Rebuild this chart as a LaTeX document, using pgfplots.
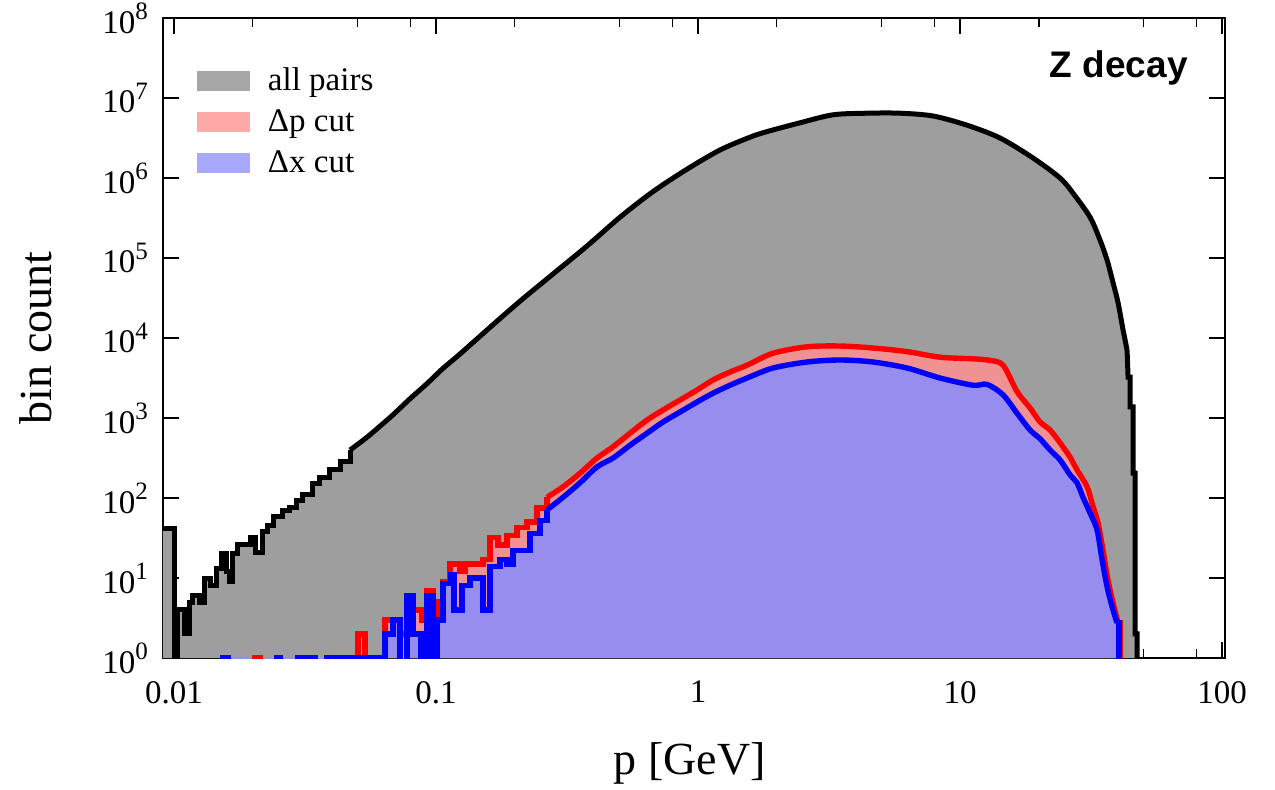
\documentclass[border=0pt]{standalone}
\usepackage{fontspec}
\setmainfont{Liberation Serif}
\newfontfamily\arialfont{Liberation Sans}
\usepackage{pgfplots}
\usepackage{pgfplotstable}
\pgfplotsset{compat=1.18}
\definecolor{grayfill}{RGB}{158,158,158}
\definecolor{pinkfill}{RGB}{240,146,146}
\definecolor{bluefill}{RGB}{150,141,238}
\definecolor{leggray}{RGB}{166,166,166}
\definecolor{legpink}{RGB}{255,168,168}
\definecolor{legblue}{RGB}{168,168,255}
\newcommand{\tp}[1]{10\raisebox{0.42em}{\fontsize{12.5}{12.5}\selectfont #1}}

\pgfplotstableread{
x y
0.00884 41
0.010088 41
0.010088 0.5
0.010358 0.5
0.010358 4
0.011016 4
0.011016 2
0.011510 2
0.011510 5
0.011817 5
0.011817 6
0.012568 6
0.012568 5
0.013133 5
0.013133 10
0.013842 10
0.013842 8
0.014591 8
0.014591 13
0.015248 13
0.015248 20
0.015933 20
0.015933 12
0.016359 12
0.016359 9
0.016796 9
0.016796 20
0.017551 20
0.017551 26
0.019507 26
0.019507 32
0.020383 32
0.020383 21
0.021678 21
0.021678 38
0.022652 38
0.022652 45
0.023878 45
0.023878 58
0.026062 58
0.026062 70
0.027713 70
0.027713 77
0.029476 77
0.029476 94
0.031074 94
0.031074 110
0.033921 110
0.033921 152
0.036073 152
0.036073 183
0.039394 183
0.039394 225
0.043020 225
0.043020 290
0.046980 290
0.046980 398
0.054528 575
0.062756 851
0.068520 1096
0.079573 1738
0.092391 2692
0.10634 4169
0.12347 6310
0.15654 12589
0.20919 28840
0.27958 63096
0.37701 141254
0.50382 323594
0.67323 676083
0.90783 1288250
1.2133 2238721
1.5790 3235937
1.8339 3801894
2.4506 4897788
3.2754 6165950
4.4171 6456542
5.9025 6456542
7.8878 5956621
10.634 4570882
14.211 3162278
18.995 1778279
24.080 1000000
26.996 645654
31.345 323594
34.212 167880
36.398 94406
38.370 48978
40.096 27542
41.898 12589
43.396 7079
43.777 3236
44.561 3236
44.561 1380
45.751 1380
45.751 204
46.564 204
46.564 2
47.386 2
47.386 0.5
}\allpairs

\pgfplotstableread{
x y
0.0190 0.5
0.020383 0.5
0.020383 1
0.021299 1
0.021299 0.5
0.041171 0.5
0.041171 1
0.043020 1
0.043020 0.5
0.050385 0.5
0.050385 2
0.053584 2
0.053584 0.5
0.059557 0.5
0.059557 1
0.063891 1
0.063891 3
0.072894 3
0.072894 2
0.077507 2
0.077507 6
0.081701 6
0.081701 4
0.088421 4
0.088421 3
0.092391 3
0.092391 7
0.097399 7
0.097399 1
0.10088 1
0.10088 5
0.10634 5
0.10634 9
0.11309 9
0.11309 15
0.12347 15
0.12347 12
0.12902 12
0.12902 15
0.15118 15
0.15118 17
0.16075 17
0.16075 32
0.17243 32
0.17243 26
0.18660 26
0.18660 34
0.20383 34
0.20383 43
0.22252 43
0.22252 50
0.24294 50
0.24294 75
0.26525 75
0.26525 102
0.30532 138
0.35448 204
0.41171 316
0.47386 437
0.55026 646
0.63894 944
0.73524 1259
0.85378 1679
0.99125 2239
1.1409 2985
1.3248 3758
1.5382 4571
1.9330 6457
2.6063 7762
3.4834 7943
4.6564 7499
6.2779 6761
8.3920 5754
11.209 5495
13.018 5248
14.592 4571
16.503 2138
18.502 1334
20.203 891
22.060 708
24.080 490
26.293 324
27.959 224
30.532 138
32.181 78
33.627 49
35.142 22
36.719 9.4
38.370 4.9
40.096 2.75
40.806 2.75
40.806 0.5
}\dpcut

\pgfplotstableread{
x y
0.0150 0.5
0.015382 0.5
0.015382 1
0.016075 1
0.016075 0.5
0.024730 0.5
0.024730 1
0.025390 1
0.025390 0.5
0.029737 0.5
0.029737 1
0.034529 1
0.034529 0.5
0.038370 0.5
0.038370 1
0.041171 1
0.041171 0.5
0.043020 0.5
0.043020 1
0.059557 1
0.059557 0.5
0.061146 0.5
0.061146 1
0.063891 1
0.063891 2
0.068520 2
0.068520 3
0.072894 3
0.072894 0.5
0.077507 0.5
0.077507 6
0.081701 6
0.081701 2
0.087649 2
0.087649 0.5
0.092391 0.5
0.092391 6
0.097399 6
0.097399 0.5
0.10088 0.5
0.10088 3
0.10634 3
0.10634 8.5
0.11409 8.5
0.11409 11
0.11714 11
0.11714 4
0.12566 4
0.12566 8
0.13482 8
0.13482 10
0.15118 10
0.15118 4
0.16075 4
0.16075 14
0.17549 14
0.17549 17
0.18660 17
0.18660 15
0.19672 15
0.19672 22
0.22848 22
0.22848 36
0.24943 36
0.24943 52
0.26525 52
0.26525 71
0.30532 102
0.35448 155
0.41171 245
0.47386 316
0.55026 457
0.63894 646
0.73524 891
0.85378 1189
0.99125 1585
1.1409 2042
1.3248 2570
1.5382 3162
1.9330 4217
2.6063 5012
3.4834 5309
4.6564 5012
6.2779 4217
8.3920 3162
11.209 2570
12.680 2630
14.592 1950
16.503 1148
18.502 708
20.203 550
22.060 398
24.080 299
26.293 195
27.959 155
29.476 102
31.345 65
33.333 40
34.834 17
36.398 7.8
38.032 4.4
39.740 2.75
40.449 2.75
40.449 0.5
}\dxcut

\begin{document}
\begin{tikzpicture}
\begin{axis}[
  scale only axis, width=531pt, height=320pt,
  xmode=log, ymode=log,
  xmin=0.00908, xmax=102.6, ymin=1, ymax=1e8,
  xtick={0.01,0.1,1,10,100},
  xticklabels={0.01,0.1,1,10,100},
  minor xtick={0.02,0.05,0.08,0.2,0.5,0.8,2,5,8,20,50,80},
  ytick={1,10,100,1000,10000,100000,1000000,10000000,100000000},
  yticklabels={\tp{0},\tp{1},\tp{2},\tp{3},\tp{4},\tp{5},\tp{6},\tp{7},\tp{8}},
  yminorticks=false,
  tick align=inside, xtick pos=both, ytick pos=both,
  major tick length=8pt, minor tick length=4.5pt,
  tick style={black, line width=0.6pt},
  axis line style={line width=0.6pt},
  ticklabel style={font=\fontsize{16.5}{16.5}\selectfont},
  xticklabel style={yshift=-8pt},
  yticklabel style={xshift=-4pt},
  xlabel={p [GeV]}, ylabel={bin count},
  label style={font=\fontsize{23}{23}\selectfont},
  xlabel style={at={(axis description cs:0.496,-0.165)}, anchor=center},
  ylabel style={at={(axis description cs:-0.12,0.5)}, anchor=center},
  legend style={at={(axis description cs:0.032,0.922)}, anchor=north west,
    draw=none, fill=none, inner sep=0pt, outer sep=0pt,
    font=\fontsize{16.5}{16.5}\selectfont, row sep=8pt, column sep=9pt,
    nodes={inner sep=0pt}},
  legend cell align=left,
  legend image code/.code={\fill[#1, draw=none] (0pt,-5pt) rectangle (26.5pt,5pt);},
]
\addlegendimage{fill=leggray, draw=none}
\addlegendentry{all pairs}
\addlegendimage{fill=legpink, draw=none}
\addlegendentry{Δp cut}
\addlegendimage{fill=legblue, draw=none}
\addlegendentry{Δx cut}

\addplot[fill=grayfill, draw=none, forget plot] table {\allpairs} \closedcycle;
\addplot[fill=pinkfill, draw=none, forget plot] table {\dpcut} \closedcycle;
\addplot[fill=bluefill, draw=none, forget plot] table {\dxcut} \closedcycle;

\addplot[black, line width=2.5pt, forget plot, restrict expr to domain={\coordindex}{0:56}] table {\allpairs};
\addplot[black, line width=2.5pt, forget plot, smooth, tension=0.5, restrict expr to domain={\coordindex}{56:90}] table {\allpairs};
\addplot[black, line width=2.5pt, forget plot, restrict expr to domain={\coordindex}{90:99}] table {\allpairs};

\addplot[red, line width=2.7pt, forget plot, restrict expr to domain={\coordindex}{0:54}] table {\dpcut};
\addplot[red, line width=2.7pt, forget plot, smooth, tension=0.5, restrict expr to domain={\coordindex}{54:89}] table {\dpcut};
\addplot[red, line width=2.7pt, forget plot, restrict expr to domain={\coordindex}{89:91}] table {\dpcut};

\addplot[blue, line width=2.7pt, forget plot, restrict expr to domain={\coordindex}{0:66}] table {\dxcut};
\addplot[blue, line width=2.7pt, forget plot, smooth, tension=0.5, restrict expr to domain={\coordindex}{66:101}] table {\dxcut};
\addplot[blue, line width=2.7pt, forget plot, restrict expr to domain={\coordindex}{101:103}] table {\dxcut};

\node[font=\arialfont\bfseries\fontsize{18.5}{18.5}\selectfont] at (rel axis cs:0.9,0.922) {Z decay};
\end{axis}
\pgfresetboundingbox
\useasboundingbox (-81.5pt,-65.5pt) rectangle (556pt,329pt);
\end{tikzpicture}
\end{document}
